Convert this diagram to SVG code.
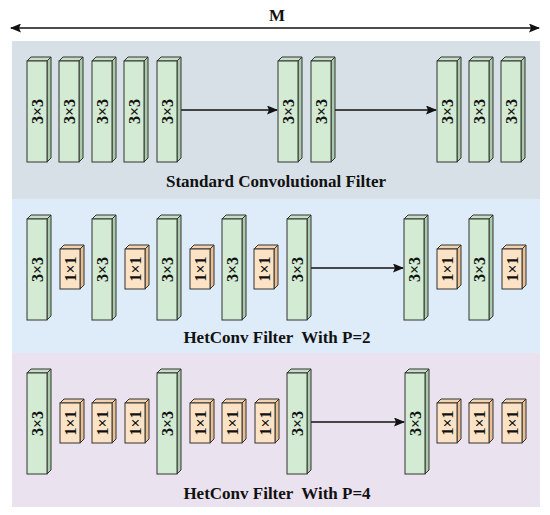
<svg xmlns="http://www.w3.org/2000/svg" xmlns:xlink="http://www.w3.org/1999/xlink" width="550" height="515" viewBox="0 0 550 515">
<style>
.lbl{font-family:"Liberation Serif","Times New Roman",serif;font-weight:bold;font-size:16px;fill:#111;text-anchor:middle;dominant-baseline:central}
.ttl{font-family:"Liberation Serif","Times New Roman",serif;font-weight:bold;font-size:17px;fill:#111;text-anchor:middle}
.gf{fill:#d3ebd3;stroke:#333;stroke-width:1}
.gt{fill:#c4dfc4;stroke:#333;stroke-width:1}
.gs{fill:#a9cba9;stroke:#333;stroke-width:1}
.of{fill:#fce3c6;stroke:#333;stroke-width:1}
.ot{fill:#f3d3ae;stroke:#333;stroke-width:1}
.os{fill:#e9bf92;stroke:#333;stroke-width:1}
.ln{stroke:#111;stroke-width:1.6;fill:none}
</style>
<defs>
<marker id="ah" markerWidth="11" markerHeight="9" refX="10" refY="4.5" orient="auto" markerUnits="userSpaceOnUse">
<path d="M0,0 L11,4.5 L0,9 L2,4.5 Z" fill="#111"/>
</marker>
<marker id="ahs" markerWidth="11" markerHeight="9" refX="1" refY="4.5" orient="auto" markerUnits="userSpaceOnUse">
<path d="M11,0 L0,4.5 L11,9 L9,4.5 Z" fill="#111"/>
</marker>
<g id="g3">
<polygon class="gt" points="0,0 4,-4 24,-4 20,0"/>
<polygon class="gs" points="20,0 24,-4 24,97 20,101"/>
<rect class="gf" x="0" y="0" width="20" height="101"/>
</g>
<g id="o1">
<polygon class="ot" points="0,0 4,-4 24,-4 20,0"/>
<polygon class="os" points="20,0 24,-4 24,36 20,40"/>
<rect class="of" x="0" y="0" width="20" height="40"/>
</g>
</defs>
<rect width="550" height="515" fill="#ffffff"/>
<g id="panels">
<rect x="12" y="41" width="528" height="158" fill="#d7e0e7"/>
<rect x="12" y="199" width="528" height="154" fill="#deebf8"/>
<rect x="12" y="353" width="528" height="154" fill="#ebe2ef"/>
</g>
<g id="connectors">
<line class="ln" x1="11" y1="28" x2="539" y2="28" marker-start="url(#ahs)" marker-end="url(#ah)"/>
<line class="ln" x1="181" y1="110" x2="277" y2="110" marker-end="url(#ah)"/>
<line class="ln" x1="335" y1="110" x2="436" y2="110" marker-end="url(#ah)"/>
<line class="ln" x1="311" y1="268" x2="403" y2="268" marker-end="url(#ah)"/>
<line class="ln" x1="311" y1="422" x2="404" y2="422" marker-end="url(#ah)"/>
</g>
<text class="ttl" x="277" y="21" style="font-size:17px">M</text>
<!-- Panel 1 -->
<g id="p1n1"><use href="#g3" x="27" y="61"/><text class="lbl" transform="translate(37,111.5) rotate(-90)">3×3</text></g>
<g id="p1n2"><use href="#g3" x="59" y="61"/><text class="lbl" transform="translate(69,111.5) rotate(-90)">3×3</text></g>
<g id="p1n3"><use href="#g3" x="92" y="61"/><text class="lbl" transform="translate(102,111.5) rotate(-90)">3×3</text></g>
<g id="p1n4"><use href="#g3" x="124" y="61"/><text class="lbl" transform="translate(134,111.5) rotate(-90)">3×3</text></g>
<g id="p1n5"><use href="#g3" x="157" y="61"/><text class="lbl" transform="translate(167,111.5) rotate(-90)">3×3</text></g>
<g id="p1n6"><use href="#g3" x="278" y="61"/><text class="lbl" transform="translate(288,111.5) rotate(-90)">3×3</text></g>
<g id="p1n7"><use href="#g3" x="311" y="61"/><text class="lbl" transform="translate(321,111.5) rotate(-90)">3×3</text></g>
<g id="p1n8"><use href="#g3" x="437" y="61"/><text class="lbl" transform="translate(447,111.5) rotate(-90)">3×3</text></g>
<g id="p1n9"><use href="#g3" x="469" y="61"/><text class="lbl" transform="translate(479,111.5) rotate(-90)">3×3</text></g>
<g id="p1n10"><use href="#g3" x="501" y="61"/><text class="lbl" transform="translate(511,111.5) rotate(-90)">3×3</text></g>
<text class="ttl" x="276" y="187">Standard Convolutional Filter</text>
<!-- Panel 2 -->
<g id="p2n1"><use href="#g3" x="27" y="219"/><text class="lbl" transform="translate(37,269.5) rotate(-90)">3×3</text></g>
<g id="p2n2"><use href="#o1" x="60" y="249"/><text class="lbl" transform="translate(70,269) rotate(-90)">1×1</text></g>
<g id="p2n3"><use href="#g3" x="92" y="219"/><text class="lbl" transform="translate(102,269.5) rotate(-90)">3×3</text></g>
<g id="p2n4"><use href="#o1" x="125" y="249"/><text class="lbl" transform="translate(135,269) rotate(-90)">1×1</text></g>
<g id="p2n5"><use href="#g3" x="157" y="219"/><text class="lbl" transform="translate(167,269.5) rotate(-90)">3×3</text></g>
<g id="p2n6"><use href="#o1" x="190" y="249"/><text class="lbl" transform="translate(200,269) rotate(-90)">1×1</text></g>
<g id="p2n7"><use href="#g3" x="222" y="219"/><text class="lbl" transform="translate(232,269.5) rotate(-90)">3×3</text></g>
<g id="p2n8"><use href="#o1" x="254" y="249"/><text class="lbl" transform="translate(264,269) rotate(-90)">1×1</text></g>
<g id="p2n9"><use href="#g3" x="287" y="219"/><text class="lbl" transform="translate(297,269.5) rotate(-90)">3×3</text></g>
<g id="p2n10"><use href="#g3" x="404" y="219"/><text class="lbl" transform="translate(414,269.5) rotate(-90)">3×3</text></g>
<g id="p2n11"><use href="#o1" x="437" y="249"/><text class="lbl" transform="translate(447,269) rotate(-90)">1×1</text></g>
<g id="p2n12"><use href="#g3" x="469" y="219"/><text class="lbl" transform="translate(479,269.5) rotate(-90)">3×3</text></g>
<g id="p2n13"><use href="#o1" x="502" y="249"/><text class="lbl" transform="translate(512,269) rotate(-90)">1×1</text></g>
<text class="ttl" x="277" y="343" xml:space="preserve">HetConv Filter  With P=2</text>
<!-- Panel 3 -->
<g id="p3n1"><use href="#g3" x="27" y="373"/><text class="lbl" transform="translate(37,423.5) rotate(-90)">3×3</text></g>
<g id="p3n2"><use href="#o1" x="60" y="403"/><text class="lbl" transform="translate(70,423) rotate(-90)">1×1</text></g>
<g id="p3n3"><use href="#o1" x="92" y="403"/><text class="lbl" transform="translate(102,423) rotate(-90)">1×1</text></g>
<g id="p3n4"><use href="#o1" x="125" y="403"/><text class="lbl" transform="translate(135,423) rotate(-90)">1×1</text></g>
<g id="p3n5"><use href="#g3" x="157" y="373"/><text class="lbl" transform="translate(167,423.5) rotate(-90)">3×3</text></g>
<g id="p3n6"><use href="#o1" x="190" y="403"/><text class="lbl" transform="translate(200,423) rotate(-90)">1×1</text></g>
<g id="p3n7"><use href="#o1" x="222" y="403"/><text class="lbl" transform="translate(232,423) rotate(-90)">1×1</text></g>
<g id="p3n8"><use href="#o1" x="255" y="403"/><text class="lbl" transform="translate(265,423) rotate(-90)">1×1</text></g>
<g id="p3n9"><use href="#g3" x="287" y="373"/><text class="lbl" transform="translate(297,423.5) rotate(-90)">3×3</text></g>
<g id="p3n10"><use href="#g3" x="405" y="373"/><text class="lbl" transform="translate(415,423.5) rotate(-90)">3×3</text></g>
<g id="p3n11"><use href="#o1" x="437" y="403"/><text class="lbl" transform="translate(447,423) rotate(-90)">1×1</text></g>
<g id="p3n12"><use href="#o1" x="469" y="403"/><text class="lbl" transform="translate(479,423) rotate(-90)">1×1</text></g>
<g id="p3n13"><use href="#o1" x="502" y="403"/><text class="lbl" transform="translate(512,423) rotate(-90)">1×1</text></g>
<text class="ttl" x="277" y="499" xml:space="preserve">HetConv Filter  With P=4</text>
</svg>
